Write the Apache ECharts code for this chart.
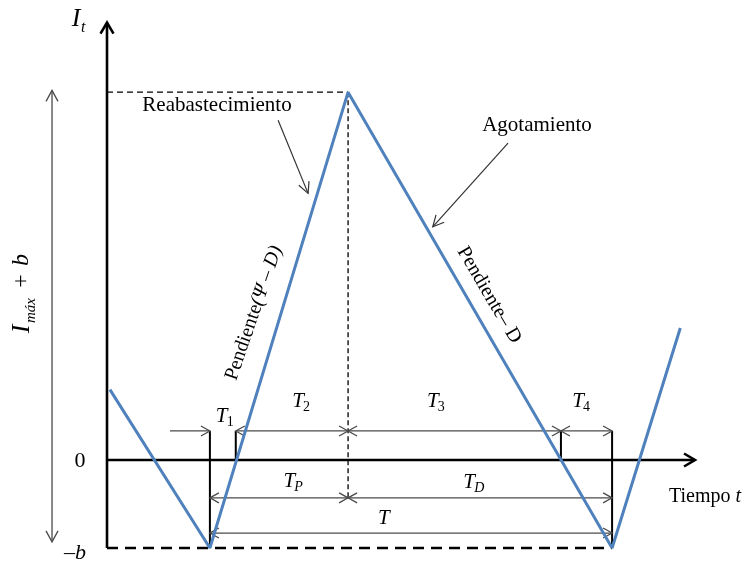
<!DOCTYPE html>
<html>
<head>
<meta charset="utf-8">
<script src="https://cdn.jsdelivr.net/npm/echarts@6/dist/echarts.min.js"></script>
<style>
  html, body { margin: 0; padding: 0; background: #ffffff; }
  #chart { width: 745px; height: 565px; }
</style>
</head>
<body>
<div id="chart"></div>
<script>
// Ciclo de inventario con faltantes. Eje x: tiempo; eje y: inventario (-b = -1).
const tiempoCurva = [0.5, 17.5, 41.0, 85.9, 97.5];
const inventarioCurva = [0.8, -1, 4.18, -1, 1.5];

// Instantes que separan T1, T2, T3 y T4
const tInicio = 17.5;   // inventario en -b, empieza el reabastecimiento
const tFinT1 = 21.9;    // el inventario vuelve a 0
const tPico = 41.0;     // inventario máximo
const tFinT3 = 77.2;    // el inventario llega a 0
const tFin = 85.9;      // inventario en -b, fin del ciclo
const nivelMaximo = 4.18;
const nivelFaltante = -1;

// Cotas: [desde, hasta, nivel, punta inicial, punta final]
const cotas = [
  [10.7, tInicio, 0.33, 0, 1],
  [tFinT1, tPico, 0.33, 1, 1],
  [tPico, tFinT3, 0.33, 1, 1],
  [tFinT3, tFin, 0.33, 1, 1],
  [tInicio, tPico, -0.43, 1, 1],
  [tPico, tFin, -0.43, 1, 1],
  [tInicio, tFin, -0.83, 1, 1]
];

// Líneas de referencia verticales: [x, desde, hasta]
const guias = [
  [tInicio, 0.33, nivelFaltante],
  [tFinT1, 0.33, 0],
  [tFinT3, 0.33, 0],
  [tFin, 0.33, nivelFaltante]
];

// Etiquetas de los periodos: [texto, subíndice, subíndice en cursiva]
const periodos = [
  ['T', '1', false],
  ['T', '2', false],
  ['T', '3', false],
  ['T', '4', false],
  ['T', 'P', true],
  ['T', 'D', true],
  ['T', '', false]
];
// Posición (en unidades de los ejes) de cada etiqueta de periodo
const posPeriodos = [
  [19.5, 0.50], [32.5, 0.67], [55.4, 0.67], [80.1, 0.67],
  [31.0, -0.24], [61.6, -0.25], [47.1, -0.66]
];

const serif = '"Liberation Serif", "Times New Roman", serif';
const gris = '#4a4a4a';

function chevron(tip, from, L, W) {
  const dx = tip[0] - from[0], dy = tip[1] - from[1];
  const len = Math.hypot(dx, dy);
  const ux = dx / len, uy = dy / len;
  const bx = tip[0] - ux * L, by = tip[1] - uy * L;
  return [[bx - uy * W, by + ux * W], tip, [bx + uy * W, by - ux * W]];
}

function renderEsquema(params, api) {
  const P = (x, y) => api.coord([x, y]);
  const items = [];
  const line = (pts, style) => items.push({
    type: 'polyline', shape: { points: pts },
    style: Object.assign({ fill: null, stroke: '#000', lineWidth: 1 }, style)
  });
  const arrowLine = (a, b, headA, headB, L, W, style) => {
    line([a, b], style);
    if (headA) line(chevron(a, b, L, W), style);
    if (headB) line(chevron(b, a, L, W), style);
  };

  // Ejes
  const ejeStyle = { stroke: '#000', lineWidth: 2.6 };
  arrowLine(P(0, nivelFaltante), P(0, 4.97), 0, 1, 11, 6.5, ejeStyle);
  arrowLine(P(0, 0), P(100, 0), 0, 1, 11, 6.5, ejeStyle);

  // Líneas discontinuas
  line([P(0, nivelMaximo), P(tPico, nivelMaximo)], { stroke: '#000', lineWidth: 1.3, lineDash: [6, 4] });
  line([P(tPico, nivelMaximo), P(tPico, -0.43)], { stroke: '#000', lineWidth: 1.3, lineDash: [5, 3] });
  line([P(0, nivelFaltante), P(tFin, nivelFaltante)], { stroke: '#000', lineWidth: 2.6, lineDash: [11, 7] });

  // Guías verticales
  guias.forEach(g => line([P(g[0], g[1]), P(g[0], g[2])], { stroke: '#000', lineWidth: 2 }));

  // Cotas
  cotas.forEach(c => arrowLine(P(c[0], c[2]), P(c[1], c[2]), c[3], c[4], 9, 5,
    { stroke: gris, lineWidth: 1.3 }));

  // Flecha doble de I_max + b
  arrowLine(P(-9.35, 4.2), P(-9.35, -0.93), 1, 1, 11, 6, { stroke: gris, lineWidth: 1.3 });

  // Flechas de las anotaciones
  arrowLine(P(29.1, 3.86), P(34.2, 3.03), 0, 1, 11, 5.5, { stroke: '#333', lineWidth: 1.2 });
  arrowLine(P(68.2, 3.6), P(55.4, 2.65), 0, 1, 11, 5.5, { stroke: '#333', lineWidth: 1.2 });

  // Etiquetas de los periodos
  periodos.forEach((p, i) => {
    const c = P(posPeriodos[i][0], posPeriodos[i][1]);
    items.push({ type: 'text', x: c[0], y: c[1], style: {
      text: p[0], font: 'italic 21px ' + serif, fill: '#000', align: 'center', verticalAlign: 'middle' } });
    if (p[1]) items.push({ type: 'text', x: c[0] + 5, y: c[1] + 6, style: {
      text: p[1], font: (p[2] ? 'italic ' : '') + '14px ' + serif, fill: '#000', align: 'left', verticalAlign: 'middle' } });
  });

  return { type: 'group', children: items };
}

const chart = echarts.init(document.getElementById('chart'));
chart.setOption({
  animation: false,
  backgroundColor: '#ffffff',
  grid: { left: 107, right: 50, top: 20, bottom: 17 },
  xAxis: { type: 'value', min: 0, max: 100, show: false },
  yAxis: { type: 'value', min: -1, max: 5, show: false },
  series: [
    {
      type: 'custom', renderItem: renderEsquema, data: [[0, 0]], z: 2, silent: true
    },
    {
      type: 'line', z: 5, symbol: 'none', silent: true,
      data: tiempoCurva.map((t, i) => [t, inventarioCurva[i]]),
      lineStyle: { color: '#4f81bd', width: 3 }
    }
  ],
  graphic: [
    { type: 'text', x: 217, y: 105, style: { text: 'Reabastecimiento', font: '21px ' + serif, fill: '#000', align: 'center', verticalAlign: 'middle' } },
    { type: 'text', x: 537, y: 125, style: { text: 'Agotamiento', font: '21px ' + serif, fill: '#000', align: 'center', verticalAlign: 'middle' } },
    { type: 'text', x: 80, y: 461, style: { text: '0', font: '22px ' + serif, fill: '#000', align: 'center', verticalAlign: 'middle' } },
    { type: 'text', x: 75, y: 553, style: { text: '{n|–}{i|b}', align: 'center', verticalAlign: 'middle',
        rich: { n: { font: '22px ' + serif, fill: '#000' }, i: { font: 'italic 22px ' + serif, fill: '#000' } } } },
    { type: 'text', x: 669, y: 497, style: { text: '{n|Tiempo }{i|t}', align: 'left', verticalAlign: 'middle',
        rich: { n: { font: '20px ' + serif, fill: '#000' }, i: { font: 'italic 20px ' + serif, fill: '#000' } } } },
    { type: 'text', x: 76, y: 19, style: { text: 'I', font: 'italic 26px ' + serif, fill: '#000', align: 'center', verticalAlign: 'middle' } },
    { type: 'text', x: 81, y: 28, style: { text: 't', font: 'italic 16px ' + serif, fill: '#000', align: 'left', verticalAlign: 'middle' } },
    {
      type: 'group', x: 22, y: 295, rotation: Math.PI / 2,
      children: [
        { type: 'text', x: -34, y: 0, style: { text: 'I', font: 'italic 26px ' + serif, fill: '#000', align: 'center', verticalAlign: 'middle' } },
        { type: 'text', x: -28, y: 9, style: { text: 'máx', font: 'italic 15px ' + serif, fill: '#000', align: 'left', verticalAlign: 'middle' } },
        { type: 'text', x: 14, y: 0, style: { text: '+', font: '24px ' + serif, fill: '#000', align: 'center', verticalAlign: 'middle' } },
        { type: 'text', x: 35, y: 0, style: { text: 'b', font: 'italic 24px ' + serif, fill: '#000', align: 'center', verticalAlign: 'middle' } }
      ]
    },
    { type: 'text', x: 254, y: 313, rotation: 71 * Math.PI / 180, style: {
        text: '{n|Pendiente}{i|(Ψ – D)}', align: 'center', verticalAlign: 'middle',
        rich: { n: { font: '20px ' + serif, fill: '#000' }, i: { font: 'italic 20px ' + serif, fill: '#000' } } } },
    { type: 'text', x: 489, y: 295, rotation: -59.5 * Math.PI / 180, style: {
        text: 'Pendiente– D', font: '20px ' + serif, fill: '#000', align: 'center', verticalAlign: 'middle' } }
  ]
});
</script>
</body>
</html>
